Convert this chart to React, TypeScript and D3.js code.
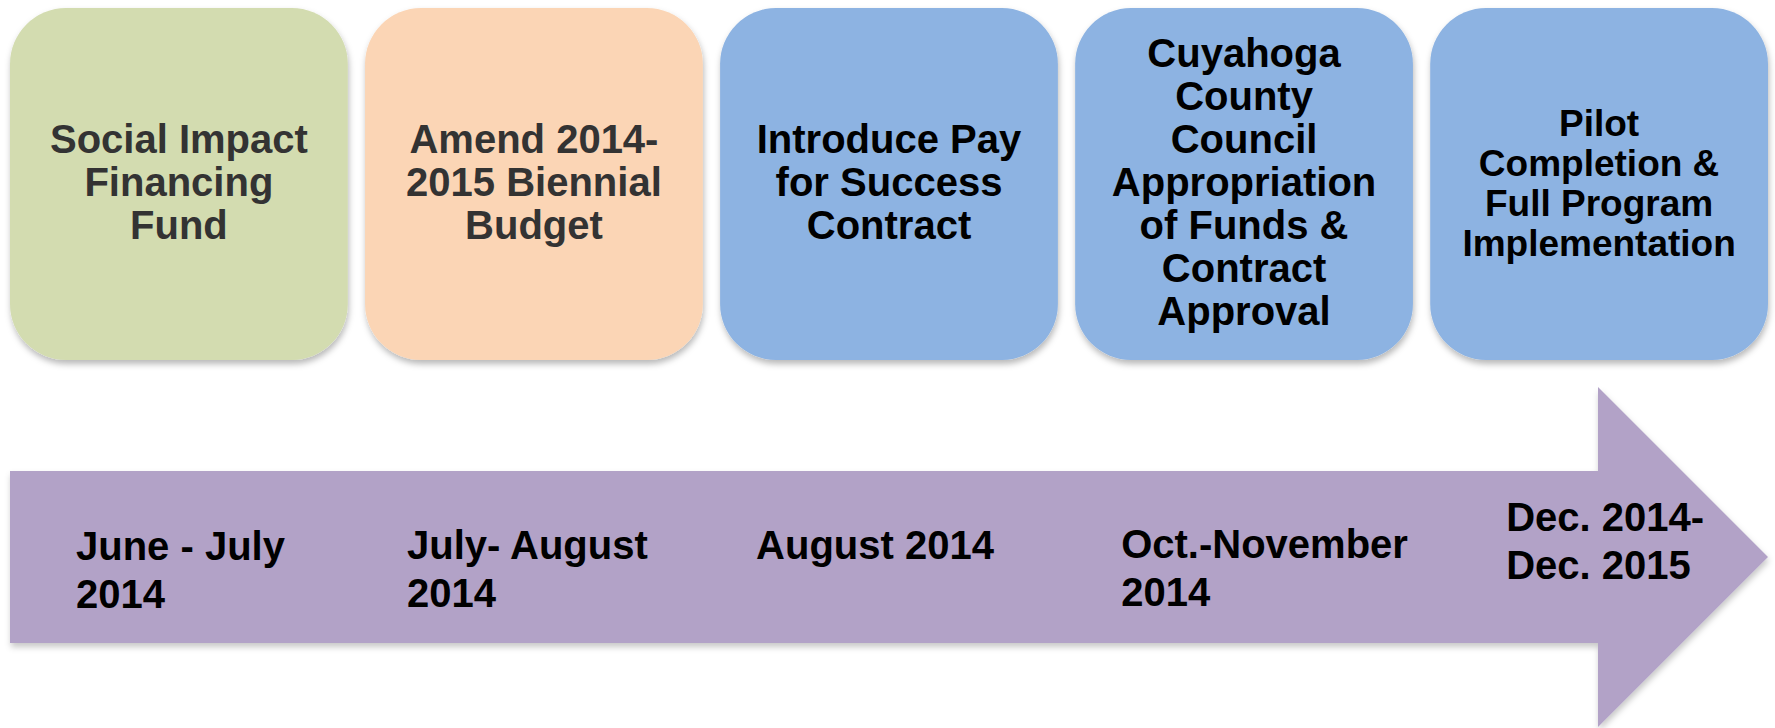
import React from "react";
import * as d3 from "d3";

// ---- data ----
const steps: string[][] = [
  ["Social Impact", "Financing", "Fund"],
  ["Amend 2014-", "2015 Biennial", "Budget"],
  ["Introduce Pay", "for Success", "Contract"],
  ["Cuyahoga", "County", "Council", "Appropriation", "of Funds &", "Contract", "Approval"],
  ["Pilot", "Completion &", "Full Program", "Implementation"],
];
const dates: string[][] = [
  ["June - July", "2014"],
  ["July- August", "2014"],
  ["August 2014"],
  ["Oct.-November", "2014"],
  ["Dec. 2014-", "Dec. 2015"],
];

// ---- styles / layout (kept apart from data) ----
const W = 1775;
const H = 728;
const boxFill = ["#d3dcb0", "#fbd5b5", "#8db3e2", "#8db3e2", "#8db3e2"];
const boxText = ["#333333", "#333333", "#000000", "#000000", "#000000"];
const boxFont = [40, 40, 40, 40, 37];
const boxLine = [43, 43, 43, 43, 40];
const dateDx = [66, 42, 36, 46, 76];
const dateY0 = [560, 559, 559, 558, 531];
const arrowFill = "#b2a2c7";
const FONT = "'Liberation Sans', Arial, Helvetica, sans-serif";

export default function App() {
  const x = d3
    .scaleBand<number>()
    .domain(steps.map((_, i) => i))
    .range([10, 1768])
    .paddingInner(0.0486)
    .paddingOuter(0);
  const boxTop = 8;
  const boxBottom = 360;
  const boxH = boxBottom - boxTop;
  const bw = x.bandwidth();
  const r = 56;
  const cy = (boxTop + boxBottom) / 2;

  // arrow geometry
  const shaftTop = 471;
  const shaftBottom = 643;
  const shaftLeft = 10;
  const headBase = 1598;
  const headTop = 387;
  const headBottom = 727;
  const tipX = 1768;
  const midY = (shaftTop + shaftBottom) / 2;
  const p = d3.path();
  p.moveTo(shaftLeft, shaftTop);
  p.lineTo(headBase, shaftTop);
  p.lineTo(headBase, headTop);
  p.lineTo(tipX, midY);
  p.lineTo(headBase, headBottom);
  p.lineTo(headBase, shaftBottom);
  p.lineTo(shaftLeft, shaftBottom);
  p.closePath();

  return (
    <div style={{ position: "fixed", left: 0, top: 0 }}>
      <svg width={W} height={H} style={{ display: "block", background: "#ffffff" }}>
        <defs>
          <filter id="sh" x="-10%" y="-10%" width="120%" height="125%">
            <feDropShadow dx="1" dy="4" stdDeviation="3" floodColor="#000" floodOpacity="0.28" />
          </filter>
          <filter id="sh2" x="-5%" y="-10%" width="110%" height="125%">
            <feDropShadow dx="1" dy="4" stdDeviation="3" floodColor="#000" floodOpacity="0.22" />
          </filter>
        </defs>
        {steps.map((lines, i) => {
          const x0 = x(i) as number;
          const cx = x0 + bw / 2;
          const n = lines.length;
          return (
            <g key={i}>
              <rect
                x={x0}
                y={boxTop}
                width={bw}
                height={boxH}
                rx={r}
                ry={r}
                fill={boxFill[i]}
                filter="url(#sh)"
              />
              <text
                fontFamily={FONT}
                fontWeight="bold"
                fontSize={boxFont[i]}
                fill={boxText[i]}
                textAnchor="middle"
              >
                {lines.map((ln, j) => (
                  <tspan key={j} x={cx} y={cy + 12 + (j - (n - 1) / 2) * boxLine[i]}>
                    {ln}
                  </tspan>
                ))}
              </text>
            </g>
          );
        })}
        <path d={p.toString()} fill={arrowFill} filter="url(#sh2)" />
        {dates.map((lines, i) => {
          const x0 = (x(i) as number) + dateDx[i];
          return (
            <text key={i} fontFamily={FONT} fontWeight="bold" fontSize={40} fill="#000">
              {lines.map((ln, j) => (
                <tspan key={j} x={x0} y={dateY0[i] + j * 48}>
                  {ln}
                </tspan>
              ))}
            </text>
          );
        })}
      </svg>
    </div>
  );
}
